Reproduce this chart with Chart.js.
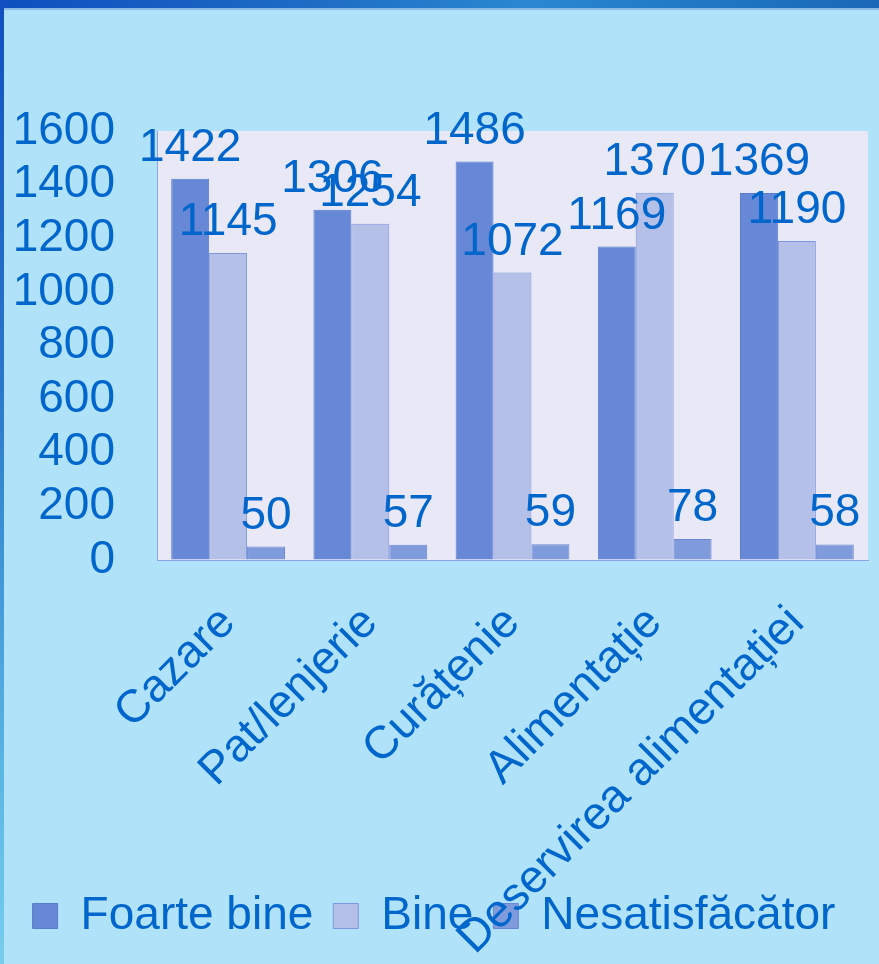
<!DOCTYPE html>
<html>
<head>
<meta charset="utf-8">
<script src="https://cdn.jsdelivr.net/npm/chart.js@4/dist/chart.umd.min.js"></script>
<style>
  html, body { margin: 0; padding: 0; background: #B0E2F9; width: 879px; height: 964px; overflow: hidden; }
  #wrap { position: absolute; left: 0; top: 0; width: 879px; height: 964px; }
  #topbar { position: absolute; left: 0; top: 0; width: 879px; height: 8px;
    background: linear-gradient(to right, #0F4FBF 0%, #1D6CC4 35%, #2A88D0 60%, #1E74C0 85%, #1A68B6 100%); z-index: 2; }
  #topline { position: absolute; left: 0; top: 8px; width: 879px; height: 2px; background: #8DB8E8; z-index: 2; }
  #leftbar { position: absolute; left: 0; top: 0; width: 4px; height: 964px;
    background: linear-gradient(to bottom, #1050C2 0%, #2A78CC 40%, #5AB6E4 80%, #78CDEE 100%); z-index: 2; }
  canvas { position: absolute; left: 0; top: 0; }
</style>
</head>
<body>
<div id="wrap">
  <canvas id="c" width="879" height="964"></canvas>
  <div id="topbar"></div>
  <div id="topline"></div>
  <div id="leftbar"></div>
</div>
<script>
const categories = ["Cazare", "Pat/lenjerie", "Curățenie", "Alimentație", "Deservirea alimentației"];
const foarteBine = [1422, 1306, 1486, 1169, 1369];
const bine = [1145, 1254, 1072, 1370, 1190];
const nesatisfacator = [50, 57, 59, 78, 58];
const seriesNames = ["Foarte bine", "Bine", "Nesatisfăcător"];
const yMin = 0, yMax = 1600, yStep = 200;

const TEXT = '#0066CC';
const FONT = 'Liberation Sans, Arial, sans-serif';

const plotBg = {
  id: 'plotBg',
  beforeDraw(chart) {
    const a = chart.chartArea, ctx = chart.ctx;
    ctx.save();
    ctx.fillStyle = '#E8E8F6';
    ctx.fillRect(a.left, a.top, a.right - a.left, a.bottom - a.top);
    ctx.restore();
  }
};

// let the long rotated category labels run past the axis box (not clipped)
const extendLabelArea = {
  id: 'extendLabelArea',
  afterLayout(chart) {
    const x = chart.scales.x;
    x.bottom = chart.height;
  }
};

const barLabels = {
  id: 'barLabels',
  afterDatasetsDraw(chart) {
    const ctx = chart.ctx;
    ctx.save();
    ctx.font = '46px ' + FONT;
    ctx.fillStyle = TEXT;
    ctx.textAlign = 'center';
    ctx.textBaseline = 'alphabetic';
    chart.data.datasets.forEach((ds, i) => {
      const meta = chart.getDatasetMeta(i);
      meta.data.forEach((bar, j) => {
        ctx.fillText(String(ds.data[j]), bar.x, bar.y - 18);
      });
    });
    ctx.restore();
  }
};

new Chart(document.getElementById('c'), {
  type: 'bar',
  data: {
    labels: categories,
    datasets: [
      { label: seriesNames[0], data: foarteBine, backgroundColor: '#6688D6', borderColor: '#5A7CCF', borderWidth: 1 },
      { label: seriesNames[1], data: bine, backgroundColor: '#B4C0E8', borderColor: '#7F96DE', borderWidth: 1 },
      { label: seriesNames[2], data: nesatisfacator, backgroundColor: '#7F9BDC', borderColor: '#6A87D4', borderWidth: 1 }
    ]
  },
  options: {
    responsive: false,
    animation: false,
    layout: { padding: { left: 0, right: 11, top: 131, bottom: 15 } },
    datasets: { bar: { categoryPercentage: 0.8, barPercentage: 1.0 } },
    scales: {
      x: {
        grid: { display: true, color: 'rgba(0,0,0,0)', drawTicks: false },
        border: { display: true, color: '#8FA2E4', width: 1 },
        ticks: {
          color: TEXT, font: { family: FONT, size: 46 },
          maxRotation: 45, minRotation: 45, autoSkip: false, padding: 36
        },
        afterFit(scale) { scale.height = 313; }
      },
      y: {
        min: yMin, max: yMax,
        grid: { display: true, color: 'rgba(0,0,0,0)', drawTicks: false },
        border: { display: true, color: '#8FA2E4', width: 1 },
        ticks: {
          stepSize: yStep, autoSkip: false, color: TEXT,
          font: { family: FONT, size: 46 }, padding: 42,
          callback: (v) => String(v)
        },
        afterFit(scale) { scale.width = 157; }
      }
    },
    plugins: {
      legend: {
        position: 'bottom',
        labels: {
          color: TEXT, font: { family: FONT, size: 46 },
          boxWidth: 25, boxHeight: 25, padding: 20
        }
      },
      tooltip: { enabled: false }
    }
  },
  plugins: [plotBg, extendLabelArea, barLabels]
});
</script>
</body>
</html>
